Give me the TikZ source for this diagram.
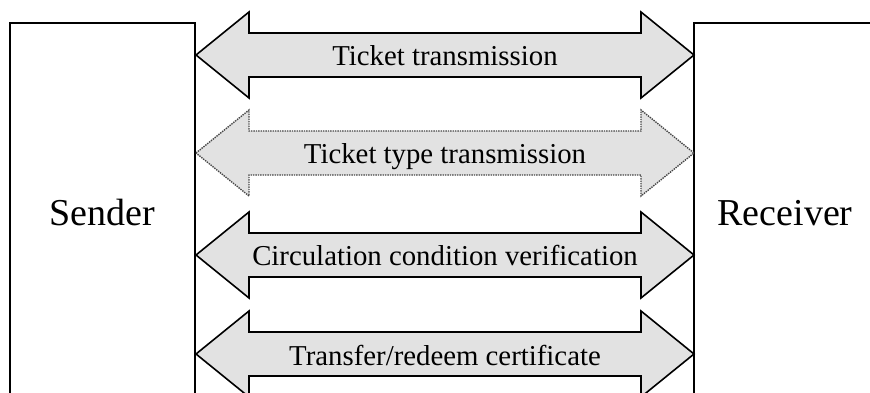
\documentclass[tikz,border=0pt]{standalone}
\usepackage{fontspec}
\setmainfont{Liberation Serif}
\definecolor{arrfill}{RGB}{226,226,226}
\definecolor{dotgray}{RGB}{70,70,70}
\tikzset{
  boxline/.style={draw, line width=1.6pt, black},
  solidarrow/.style={draw=black, line width=1.6pt, fill=arrfill, line join=miter},
  dotarrow/.style={draw=dotgray, line width=1.4pt, densely dotted, fill=arrfill},
  lbl/.style={font=\fontsize{28.8}{30}\selectfont, anchor=base, inner sep=0pt},
  party/.style={font=\fontsize{38}{40}\selectfont, anchor=base, inner sep=0pt}
}
\newcommand{\dblarrow}[3]{% style, center y, name
  \path[#1] (196,#2) -- (249,#2-43) -- (249,#2-22) -- (641,#2-22) -- (641,#2-43)
    -- (694,#2) -- (641,#2+43) -- (641,#2+22) -- (249,#2+22) -- (249,#2+43) -- cycle;
  \coordinate (#3L) at (196,#2);
  \coordinate (#3R) at (694,#2);
}
\begin{document}
\begin{tikzpicture}[x=1pt,y=-1pt]
\useasboundingbox (0,0) rectangle (870,393);
\fill[white] (0,0) rectangle (870,393);
\begin{scope}
\clip (0,0) rectangle (870,393);
% boxes
\draw[boxline] (10,400) -- (10,23) -- (195,23) -- (195,400);
\draw[boxline] (694,400) -- (694,23) -- (875,23);
\node[party] (sender) at (102,225) {Sender};
\node[party] (receiver) at (785,225) {Receiver};
% arrows
\dblarrow{solidarrow}{55}{a}
\dblarrow{dotarrow}{153}{b}
\dblarrow{solidarrow}{255}{c}
\dblarrow{solidarrow}{354}{d}
\node[lbl] (la) at (445,66) {Ticket transmission};
\node[lbl] (lb) at (445,164) {Ticket type transmission};
\node[lbl] (lc) at (445,265) {Circulation condition verification};
\node[lbl] (ld) at (445,365) {Transfer/redeem certificate};
\end{scope}
\end{tikzpicture}
\end{document}
